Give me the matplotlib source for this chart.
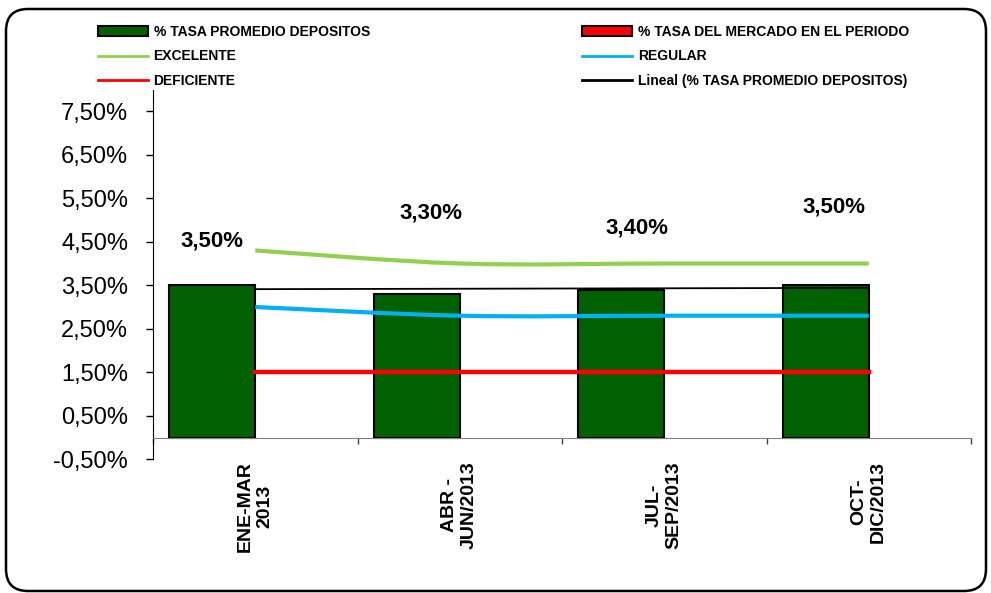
import matplotlib
matplotlib.use('Agg')
import matplotlib.pyplot as plt
import numpy as np
from matplotlib.patches import Patch, FancyBboxPatch, PathPatch
from matplotlib.path import Path
from matplotlib.lines import Line2D
from matplotlib.ticker import FuncFormatter, NullFormatter

plt.rcParams['font.family'] = ['Liberation Sans', 'DejaVu Sans']

# datos
periodos = ['ENE-MAR\n2013', 'ABR -\nJUN/2013', 'JUL-\nSEP/2013', 'OCT-\nDIC/2013']
tasa_promedio = [3.50, 3.30, 3.40, 3.50]
excelente = [4.30, 4.00, 4.00, 4.00]
regular = [3.00, 2.80, 2.80, 2.80]
deficiente = [1.50, 1.50, 1.50, 1.50]
etiquetas = ['3,50%', '3,30%', '3,40%', '3,50%']
# desplazamiento de las etiquetas respecto a la barra (puntos)
desp_etiquetas = [(0, 32), (10, 58), (11, 44), (6, 56)]


def linea_suave(ax, xs, ys, **kw):
    # curva suavizada tipo Excel (bezier cubica por los puntos)
    p = np.column_stack([xs, ys]).astype(float)
    ext = np.vstack([p[0], p, p[-1]])
    verts = [p[0]]
    codes = [Path.MOVETO]
    for i in range(len(p) - 1):
        c1 = ext[i + 1] + (ext[i + 2] - ext[i]) / 6
        c2 = ext[i + 2] - (ext[i + 3] - ext[i + 1]) / 6
        verts += [c1, c2, p[i + 1]]
        codes += [Path.CURVE4] * 3
    ax.add_patch(PathPatch(Path(verts, codes), fill=False, capstyle='butt', **kw))


fig = plt.figure(figsize=(9.91, 5.93), dpi=100)
ax = fig.add_axes([153/991, 1 - 459.25/593, 818/991, (459.25 - 89.5)/593])

x = np.arange(len(periodos))
bar_w = 0.42
ax.bar(x, tasa_promedio, width=-bar_w, align='edge', color='#006100',
       edgecolor='black', linewidth=1.5, zorder=2)

linea_suave(ax, x, excelente, edgecolor='#92D050', lw=3, zorder=3)
linea_suave(ax, x, regular, edgecolor='#00B0F0', lw=3, zorder=3)
ax.plot(x, deficiente, color='#FF0000', lw=3.2, zorder=3)

# linea de tendencia lineal
coef = np.polyfit(x, tasa_promedio, 1)
ax.plot(x, np.polyval(coef, x), color='black', lw=1.3, zorder=4)

for xi, v, txt, off in zip(x - bar_w/2, tasa_promedio, etiquetas, desp_etiquetas):
    ax.annotate(txt, (xi, v), xytext=off, textcoords='offset points',
                ha='center', va='center', fontsize=16, fontweight='bold')

ax.set_xlim(-0.5, 3.5)
ax.set_ylim(-0.5, 8.0)
ax.set_yticks(np.arange(-0.5, 8.0, 1.0))
ax.yaxis.set_major_formatter(FuncFormatter(lambda v, p: f'{v:.2f}%'.replace('.', ',')))
ax.tick_params(axis='y', direction='out', length=5, width=1, pad=13, labelsize=17)

ax.spines['top'].set_visible(False)
ax.spines['right'].set_visible(False)
ax.spines['left'].set_color('black')
ax.spines['bottom'].set_position(('data', 0))
ax.spines['bottom'].set_color('#808080')

ax.set_xticks(np.arange(-0.5, 4.0, 1.0))
ax.xaxis.set_major_formatter(NullFormatter())
ax.tick_params(axis='x', which='major', direction='out', length=4, width=1, color='#404040')
ax.set_xticks(x, minor=True)
ax.set_xticklabels(periodos, minor=True, rotation=90, fontsize=14,
                   fontweight='bold', multialignment='center')
ax.tick_params(axis='x', which='minor', length=0, pad=17)

handles = [
    Patch(facecolor='#006100', edgecolor='black', linewidth=1.5),
    Line2D([], [], color='#92D050', lw=2),
    Line2D([], [], color='#FF0000', lw=2),
    Patch(facecolor='#FF0000', edgecolor='black', linewidth=1.5),
    Line2D([], [], color='#00B0F0', lw=2),
    Line2D([], [], color='black', lw=2),
]
labels = ['% TASA PROMEDIO DEPOSITOS', 'EXCELENTE', 'DEFICIENTE',
          '% TASA DEL MERCADO EN EL PERIODO', 'REGULAR',
          'Lineal (% TASA PROMEDIO DEPOSITOS)']
fig.legend(handles, labels, ncol=2, loc='upper left',
           bbox_to_anchor=(98/991, 1 - 25/593), frameon=False,
           prop={'weight': 'bold', 'size': 10}, handlelength=3.6,
           handletextpad=0.4, columnspacing=15.3, labelspacing=0.75,
           borderpad=0, borderaxespad=0)

# marco redondeado
marco = FancyBboxPatch((0.06, 0.02), 9.8, 5.82,
                       boxstyle='round,pad=0,rounding_size=0.22',
                       transform=fig.dpi_scale_trans, fill=False,
                       edgecolor='black', linewidth=1.8)
fig.add_artist(marco)

fig.savefig('out.png', dpi=100)
